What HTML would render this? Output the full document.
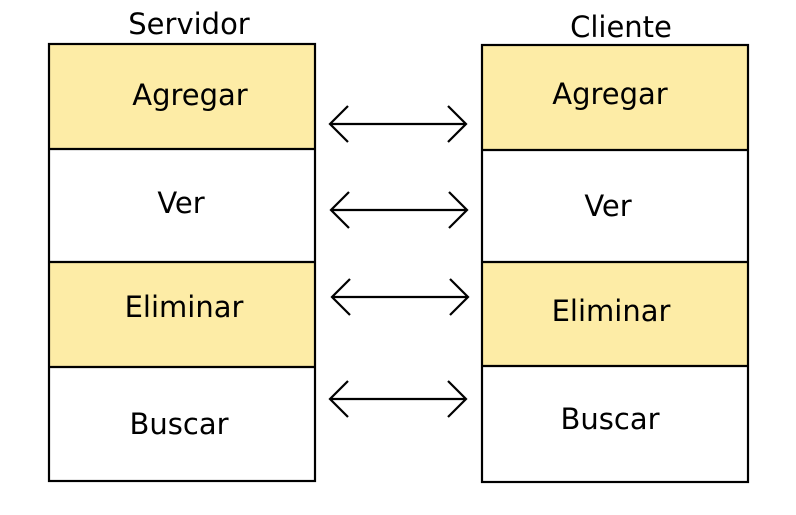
<!DOCTYPE html><html><head><style>body{margin:0;background:#fff}</style></head><body>
<svg width="796" height="510" xmlns="http://www.w3.org/2000/svg" font-family="DejaVu Sans, sans-serif" font-size="29" text-anchor="middle">
<rect x="49" y="44" width="266" height="105" fill="#fdeca6"/>
<rect x="49" y="262" width="266" height="105" fill="#fdeca6"/>
<rect x="482" y="45" width="266" height="105" fill="#fdeca6"/>
<rect x="482" y="262" width="266" height="104" fill="#fdeca6"/>
<g stroke="#000" stroke-width="2.2" fill="none">
<rect x="49" y="44" width="266" height="437"/>
<line x1="49" y1="149" x2="315" y2="149"/><line x1="49" y1="262" x2="315" y2="262"/><line x1="49" y1="367" x2="315" y2="367"/>
<rect x="482" y="45" width="266" height="437"/>
<line x1="482" y1="150" x2="748" y2="150"/><line x1="482" y1="262" x2="748" y2="262"/><line x1="482" y1="366" x2="748" y2="366"/>
<path d="M330 124H466M348 106L330 124L348 142M448 106L466 124L448 142"/>
<path d="M331 210H467M349 192L331 210L349 228M449 192L467 210L449 228"/>
<path d="M332 297H468M350 279L332 297L350 315M450 279L468 297L450 315"/>
<path d="M330 399H466M348 381L330 399L348 417M448 381L466 399L448 417"/>
</g>
<g dominant-baseline="central">
<text x="189" y="24">Servidor</text><text x="621" y="27">Cliente</text>
<text x="190" y="95">Agregar</text><text x="181" y="203">Ver</text><text x="184" y="307">Eliminar</text><text x="179" y="424">Buscar</text>
<text x="610" y="94">Agregar</text><text x="608" y="206">Ver</text><text x="611" y="311">Eliminar</text><text x="610" y="419">Buscar</text>
</g>
</svg></body></html>
